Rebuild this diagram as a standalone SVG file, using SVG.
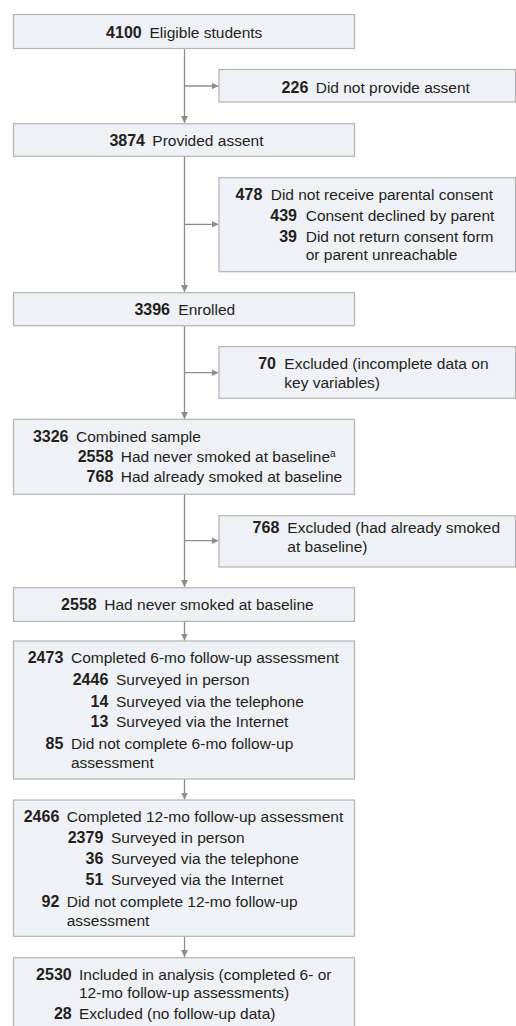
<svg xmlns="http://www.w3.org/2000/svg" width="516" height="1026" viewBox="0 0 516 1026">
<style>
.box{fill:#eef1f5;stroke:#b3b3b3;stroke-width:1.2}
.t{font-family:"Liberation Sans",Arial,sans-serif;font-size:15.5px;fill:#231f20}
.n{font-family:"Liberation Sans",Arial,sans-serif;font-size:16px;font-weight:bold;fill:#231f20;text-anchor:end}
.sup{font-size:10px}
.ln{stroke:#8c8c8c;stroke-width:1.3;fill:none}
</style>
<defs>
<marker id="ah" viewBox="0 0 10 10" refX="10" refY="5" markerWidth="7" markerHeight="7" markerUnits="userSpaceOnUse" orient="auto">
<path d="M0,0 L10,5 L0,10 Z" fill="#8c8c8c"/>
</marker>
</defs>
<rect width="516" height="1026" fill="#ffffff"/>
<g id="connectors">
<path class="ln" d="M184.5,48.5 V123" marker-end="url(#ah)"/>
<path class="ln" d="M184.5,86 H218.5" marker-end="url(#ah)"/>
<path class="ln" d="M184.5,156.3 V292" marker-end="url(#ah)"/>
<path class="ln" d="M184.5,224.3 H218.5" marker-end="url(#ah)"/>
<path class="ln" d="M184.5,325.7 V419" marker-end="url(#ah)"/>
<path class="ln" d="M184.5,372.7 H218.5" marker-end="url(#ah)"/>
<path class="ln" d="M184.5,494.3 V587" marker-end="url(#ah)"/>
<path class="ln" d="M184.5,540.7 H218.5" marker-end="url(#ah)"/>
<path class="ln" d="M184.5,621.3 V640.5" marker-end="url(#ah)"/>
<path class="ln" d="M184.5,779 V799.5" marker-end="url(#ah)"/>
<path class="ln" d="M184.5,936.3 V957" marker-end="url(#ah)"/>
</g>
<g id="n1">
<rect class="box" x="13.5" y="14.5" width="341" height="34"/>
<text class="n" x="141.7" y="37.5">4100</text>
<text class="t" x="149.5" y="37.5">Eligible students</text>
</g>
<g id="x1">
<rect class="box" x="219" y="69.5" width="296.5" height="32.5"/>
<text class="n" x="308.3" y="93.3">226</text>
<text class="t" x="315.7" y="93.3">Did not provide assent</text>
</g>
<g id="n2">
<rect class="box" x="13.5" y="123.7" width="341" height="32.6"/>
<text class="n" x="145" y="146">3874</text>
<text class="t" x="152.3" y="146">Provided assent</text>
</g>
<g id="x2">
<rect class="box" x="219" y="177.7" width="296.5" height="94"/>
<text class="n" x="262.3" y="200">478</text>
<text class="t" x="270.7" y="200">Did not receive parental consent</text>
<text class="n" x="297" y="220.7">439</text>
<text class="t" x="305.7" y="220.7">Consent declined by parent</text>
<text class="n" x="297" y="241.5">39</text>
<text class="t" x="305.7" y="241.5">Did not return consent form</text>
<text class="t" x="305.7" y="259.5">or parent unreachable</text>
</g>
<g id="n3">
<rect class="box" x="13.5" y="292.7" width="341" height="33"/>
<text class="n" x="170" y="315">3396</text>
<text class="t" x="178.3" y="315">Enrolled</text>
</g>
<g id="x3">
<rect class="box" x="219" y="346.7" width="296.5" height="51.6"/>
<text class="n" x="276" y="369.3">70</text>
<text class="t" x="284.3" y="369.3">Excluded (incomplete data on</text>
<text class="t" x="284.3" y="388">key variables)</text>
</g>
<g id="n4">
<rect class="box" x="13.5" y="419.3" width="341" height="75"/>
<text class="n" x="68.5" y="441.7">3326</text>
<text class="t" x="76" y="441.7">Combined sample</text>
<text class="n" x="113.3" y="461.7">2558</text>
<text class="t" x="120.7" y="461.7">Had never smoked at baseline<tspan class="sup" dy="-5">a</tspan></text>
<text class="n" x="113.3" y="482.3">768</text>
<text class="t" x="120.7" y="482.3">Had already smoked at baseline</text>
</g>
<g id="x4">
<rect class="box" x="219" y="515.7" width="296.5" height="51.3"/>
<text class="n" x="279.3" y="533.3">768</text>
<text class="t" x="287.3" y="533.3">Excluded (had already smoked</text>
<text class="t" x="287.3" y="551.7">at baseline)</text>
</g>
<g id="n5">
<rect class="box" x="13.5" y="587.7" width="341" height="33.6"/>
<text class="n" x="96.7" y="610">2558</text>
<text class="t" x="104.3" y="610">Had never smoked at baseline</text>
</g>
<g id="n6">
<rect class="box" x="13.5" y="641" width="341" height="138"/>
<text class="n" x="63.3" y="663.3">2473</text>
<text class="t" x="71" y="663.3">Completed 6-mo follow-up assessment</text>
<text class="n" x="108.3" y="685">2446</text>
<text class="t" x="116" y="685">Surveyed in person</text>
<text class="n" x="108.3" y="706.5">14</text>
<text class="t" x="116" y="706.5">Surveyed via the telephone</text>
<text class="n" x="108.3" y="727">13</text>
<text class="t" x="116" y="727">Surveyed via the Internet</text>
<text class="n" x="63.3" y="749.3">85</text>
<text class="t" x="71" y="749.3">Did not complete 6-mo follow-up</text>
<text class="t" x="71" y="767.7">assessment</text>
</g>
<g id="n7">
<rect class="box" x="13.5" y="800" width="341" height="136.3"/>
<text class="n" x="59.3" y="821.7">2466</text>
<text class="t" x="66.7" y="821.7">Completed 12-mo follow-up assessment</text>
<text class="n" x="103.3" y="842.7">2379</text>
<text class="t" x="111" y="842.7">Surveyed in person</text>
<text class="n" x="103.3" y="864">36</text>
<text class="t" x="111" y="864">Surveyed via the telephone</text>
<text class="n" x="103.3" y="885">51</text>
<text class="t" x="111" y="885">Surveyed via the Internet</text>
<text class="n" x="59.3" y="907.3">92</text>
<text class="t" x="66.7" y="907.3">Did not complete 12-mo follow-up</text>
<text class="t" x="66.7" y="925.7">assessment</text>
</g>
<g id="n8">
<rect class="box" x="13.5" y="957.7" width="341" height="75"/>
<text class="n" x="71.7" y="980">2530</text>
<text class="t" x="79" y="980">Included in analysis (completed 6- or</text>
<text class="t" x="79" y="998.3">12-mo follow-up assessments)</text>
<text class="n" x="71.7" y="1019.3">28</text>
<text class="t" x="79" y="1019.3">Excluded (no follow-up data)</text>
</g>
</svg>
